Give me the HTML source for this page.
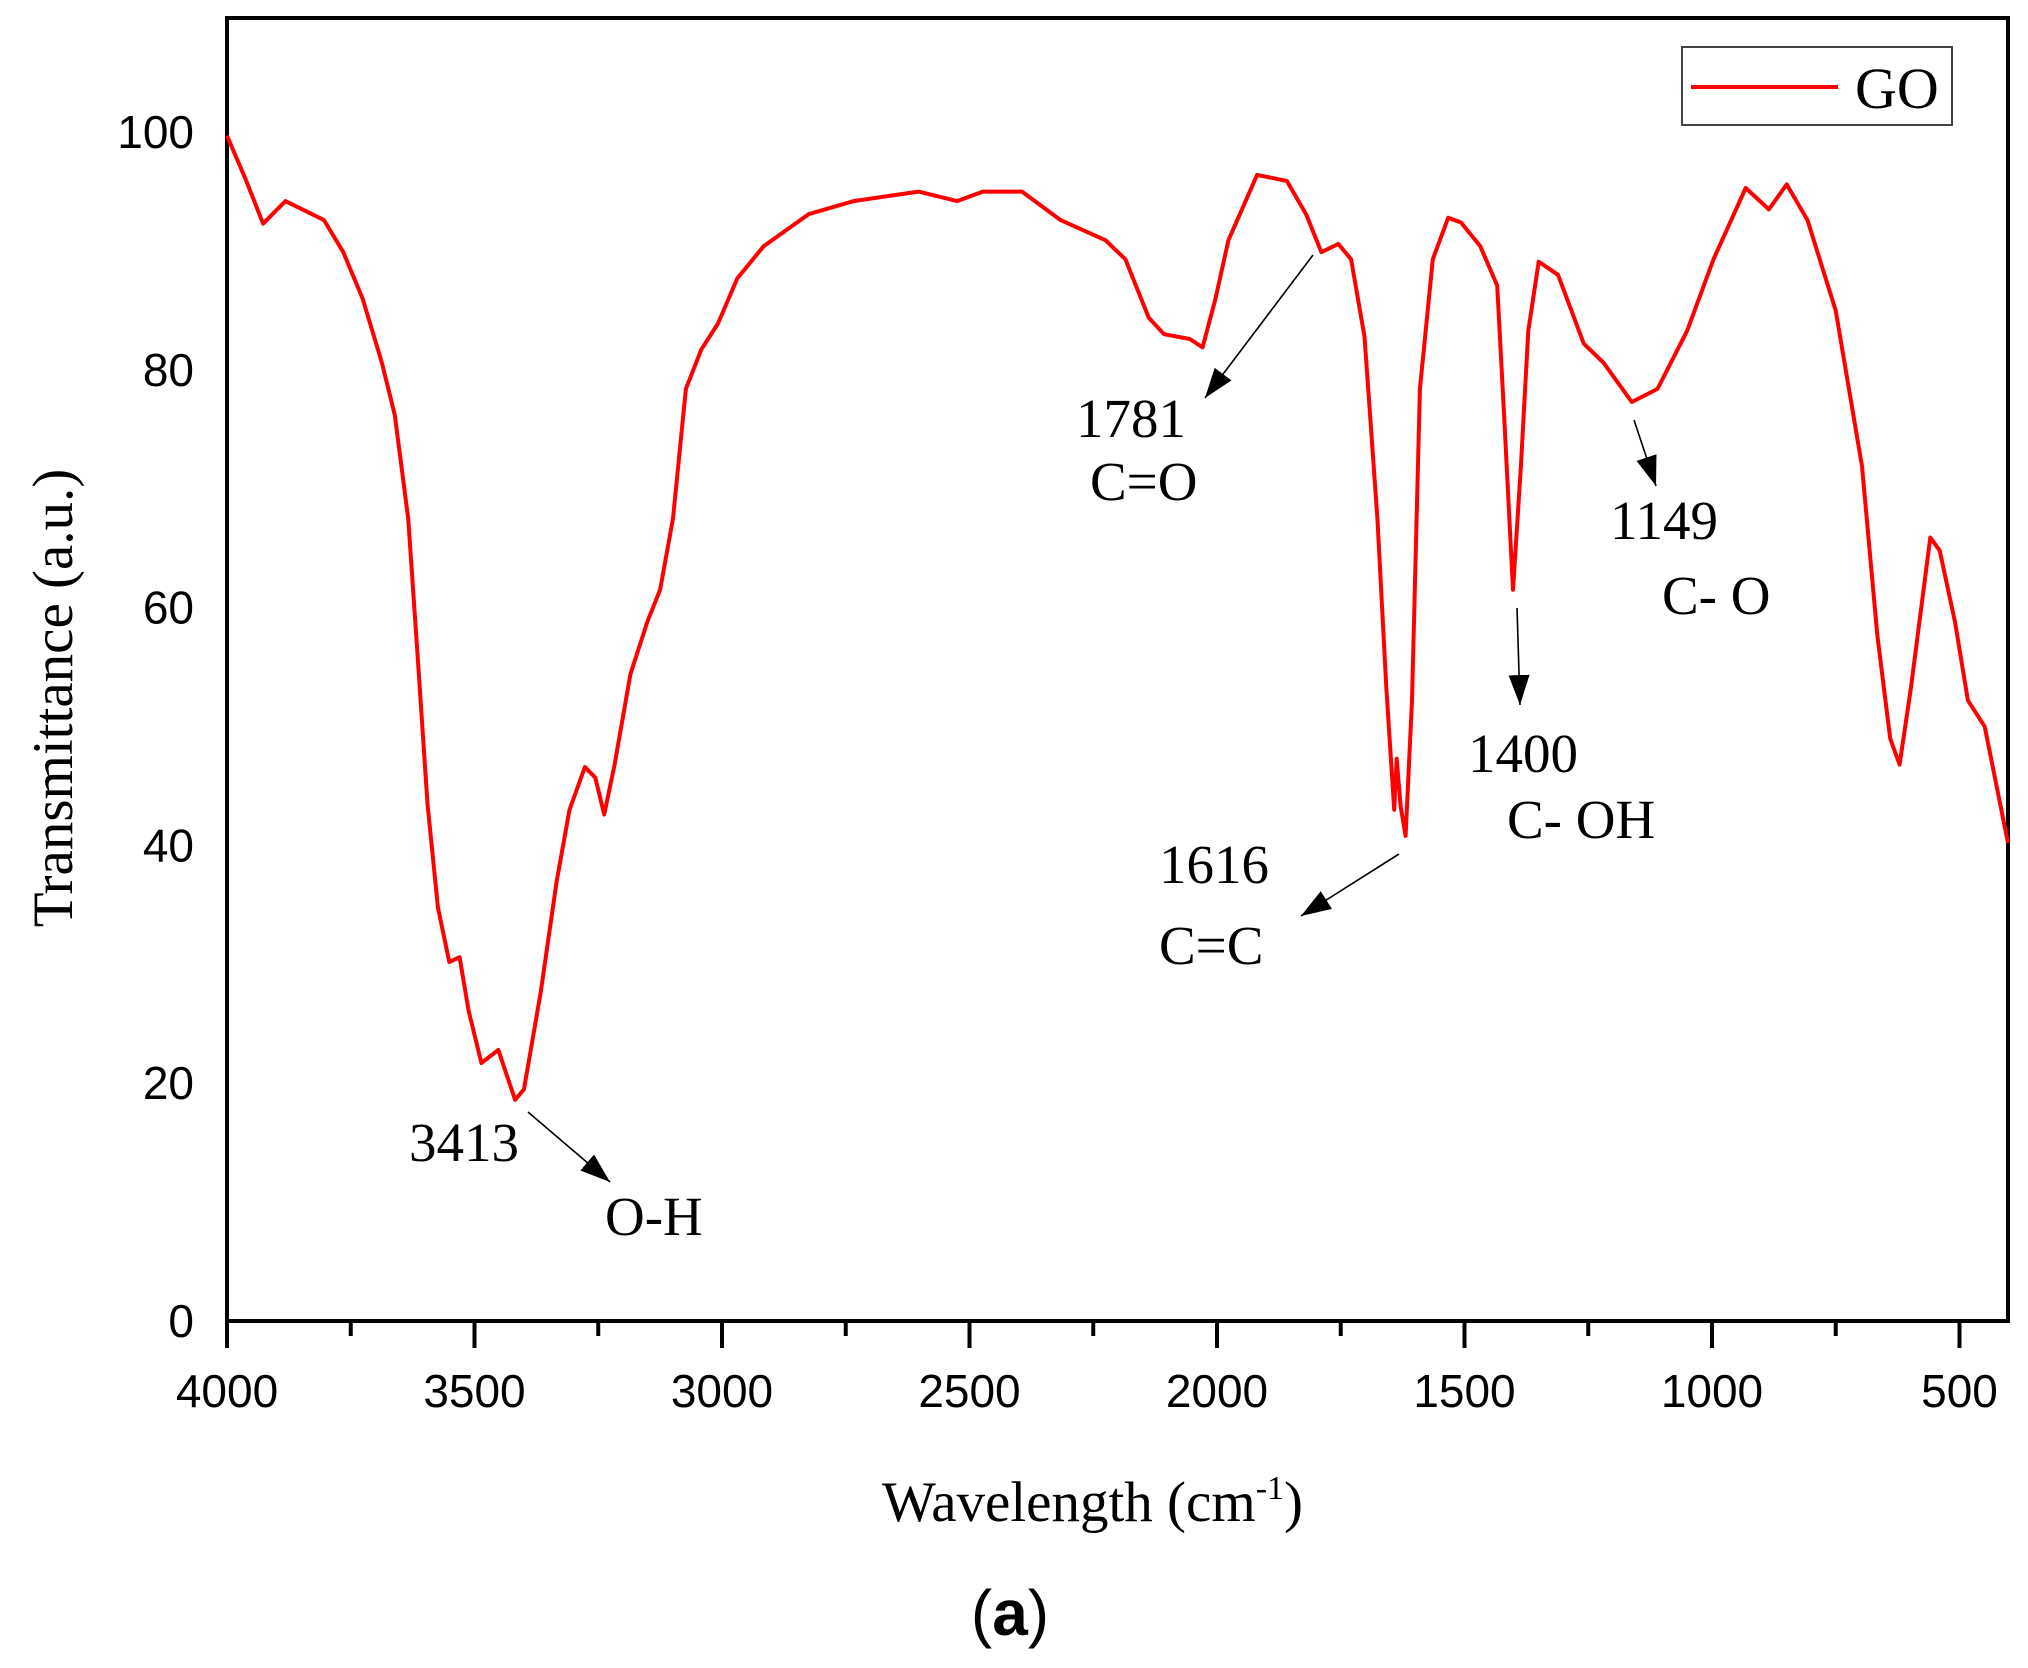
<!DOCTYPE html>
<html><head><meta charset="utf-8"><style>
html,body{margin:0;padding:0;background:#fff;}
svg{display:block;}
.t{font-family:"Liberation Serif",serif;fill:#000;}
.s{font-family:"Liberation Sans",sans-serif;fill:#000;}
</style></head><body>
<svg id="chart" width="2028" height="1668" viewBox="0 0 2028 1668" xmlns="http://www.w3.org/2000/svg">
<defs><marker id="ah" viewBox="0 0 10 10" refX="10" refY="5" markerWidth="30" markerHeight="30" markerUnits="userSpaceOnUse" orient="auto"><path d="M0,1.5 L10,5 L0,8.5 Z" fill="#000"/></marker></defs>
<g id="plot"></g>
<g id="annos"></g>
</svg>
<script>
const wavenumbers=[4000,3961,3927,3882,3804,3765,3726,3687,3661,3634,3616,3595,3574,3551,3530,3512,3486,3452,3418,3400,3366,3334,3308,3277,3256,3238,3217,3185,3151,3125,3099,3073,3042,3008,2969,2916,2825,2734,2603,2525,2473,2394,2316,2225,2185,2138,2107,2055,2029,2003,1977,1919,1859,1820,1789,1755,1729,1702,1676,1658,1642,1637,1629,1619,1606,1590,1564,1533,1507,1468,1434,1420,1402,1386,1371,1350,1311,1259,1219,1162,1110,1050,997,932,885,849,807,750,697,666,640,621,598,559,540,509,483,449,402];
const transmittance=[99.7,95.9,92.3,94.2,92.6,89.9,86,80.6,76.2,67.5,56.6,43.5,34.8,30.2,30.6,26.1,21.7,22.8,18.6,19.5,27.7,37,43,46.6,45.7,42.6,46.8,54.4,58.8,61.5,67.5,78.4,81.7,83.9,87.7,90.4,93.1,94.2,95,94.2,95,95,92.6,90.9,89.3,84.4,83,82.6,81.9,86,90.9,96.4,95.9,93.1,89.9,90.6,89.3,82.8,67.5,53.3,43,47.3,43.3,40.8,52.2,78.4,89.3,92.8,92.4,90.4,87.1,76.2,61.5,71.9,83.3,89.1,88,82.2,80.6,77.3,78.4,83.3,89.3,95.3,93.5,95.6,92.6,85,71.9,57.7,49,46.8,53.3,65.9,64.8,58.8,52.2,50,40.2];
const xTicks=[4000,3500,3000,2500,2000,1500,1000,500];
const yTicks=[0,20,40,60,80,100];
const annoLabels=[["1781",1076,437],["C=O",1090,500],["1616",1159,883],["C=C",1159,964],["1400",1468,772],["C- OH",1507,838],["1149",1610,539],["C- O",1662,614],["3413",409,1161],["O-H",605,1235]];
const arrows=[[1313,255,1205,398],[1399,854,1301,916],[1517,608,1520,705],[1634,420,1656,486],[528,1112,610,1182]];

const L=227,R=2008,T=18,B=1321,XMAX=4000,XMIN=402,YMIN=0,YMAX=109.6;
const xs=v=>L+(XMAX-v)/(XMAX-XMIN)*(R-L);
const ys=v=>B-(v-YMIN)/(YMAX-YMIN)*(B-T);
const NS="http://www.w3.org/2000/svg";
const plot=document.getElementById('plot'),annos=document.getElementById('annos');
function mk(tag,attrs,parent,text){const e=document.createElementNS(NS,tag);for(const k in attrs)e.setAttribute(k,attrs[k]);if(text!==undefined)e.textContent=text;parent.appendChild(e);return e;}

const frame=mk('rect',{x:L,y:T,width:R-L,height:B-T,fill:'none',stroke:'#000','stroke-width':4},plot);



for(let v=4000;v>=XMIN;v-=250){
  const major=v%500===0;
  const tk=mk('line',{x1:xs(v),x2:xs(v),y1:B,y2:B+(major?27:15),stroke:'#000','stroke-width':4},plot);
  
  
}
xTicks.forEach(v=>{
  const t=mk('text',{x:xs(v),y:1407,'text-anchor':'middle','font-size':46,class:'s'},plot,String(v));
  
  
});
yTicks.forEach(v=>{
  const t=mk('text',{x:194,y:ys(v)+16,'text-anchor':'end','font-size':46,class:'s'},plot,String(v));
  
  
});

let d='';
wavenumbers.forEach((w,i)=>{d+=(i?'L':'M')+xs(w).toFixed(1)+','+ys(transmittance[i]).toFixed(1);});
const line=mk('path',{d:d,fill:'none',stroke:'#ff0000','stroke-width':4,'stroke-linejoin':'round'},plot);



const lg=mk('rect',{x:1682,y:47,width:270,height:78,fill:'#fff',stroke:'#444','stroke-width':2},plot);


const ll=mk('line',{x1:1691,x2:1838,y1:87,y2:87,stroke:'#ff0000','stroke-width':4},plot);


const lt=mk('text',{x:1855,y:108,'font-size':58,class:'t'},plot,'GO');



annoLabels.forEach(a=>{
  const t=mk('text',{x:a[1],y:a[2],'font-size':55,class:'t'},annos,a[0]);
  
  
});
arrows.forEach(a=>{
  const ar=mk('line',{x1:a[0],y1:a[1],x2:a[2],y2:a[3],stroke:'#000','stroke-width':1.6,'marker-end':'url(#ah)'},annos);
  
  
});

const xt=mk('text',{x:882,y:1521,'font-size':57,class:'t'},annos,'Wavelength (cm');


const sup=mk('tspan',{dy:-22,'font-size':34},xt,'-1');
const cl=mk('tspan',{dy:22,'font-size':57},xt,')');
const yt=mk('text',{x:0,y:0,'font-size':57,class:'t','text-anchor':'middle',transform:'translate(72,698) rotate(-90)'},annos,'Transmittance (a.u.)');


const pl=mk('text',{x:1010,y:1635,'font-size':64,class:'s','text-anchor':'middle'},annos,'');


mk('tspan',{},pl,'(');
mk('tspan',{'font-weight':'bold'},pl,'a');
mk('tspan',{},pl,')');
</script>
</body></html>
